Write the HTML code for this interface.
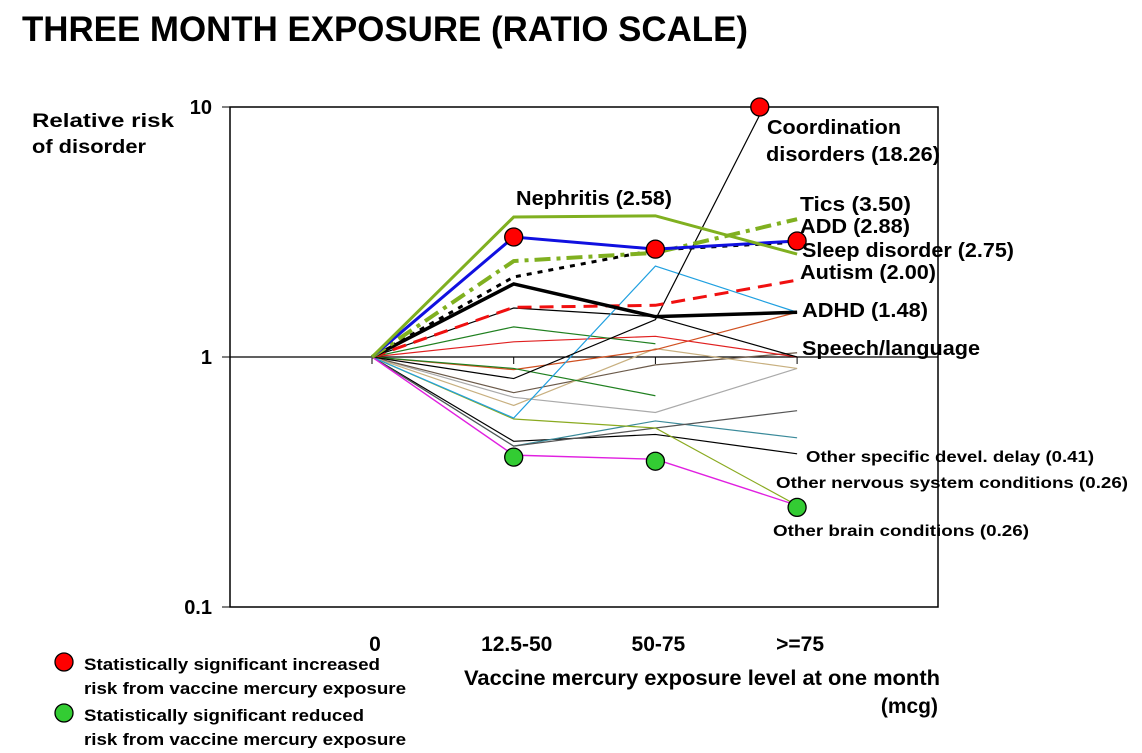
<!DOCTYPE html>
<html><head><meta charset="utf-8"><style>
body{margin:0;background:#fff;width:1142px;height:748px;overflow:hidden;font-family:"Liberation Sans",Arial,sans-serif}
svg text{font-family:"Liberation Sans",Arial,sans-serif;font-weight:bold}
</style></head><body>
<svg id="c" width="1142" height="748">
<text x="22" y="41" font-size="35" textLength="726" lengthAdjust="spacingAndGlyphs">THREE MONTH EXPOSURE (RATIO SCALE)</text>
<text x="32" y="127" font-size="19" textLength="142" lengthAdjust="spacingAndGlyphs">Relative risk</text>
<text x="32" y="153" font-size="19" textLength="114" lengthAdjust="spacingAndGlyphs">of disorder</text>
<rect x="230" y="107" width="708" height="500" fill="none" stroke="#000" stroke-width="1.5"/>
<g id="yt"></g><g id="xt"></g>
<clipPath id="cp"><rect x="230" y="107" width="708" height="500"/></clipPath>
<g id="lines" clip-path="url(#cp)"></g><g id="dots"></g>
<text x="464" y="685" font-size="21" textLength="476" lengthAdjust="spacingAndGlyphs">Vaccine mercury exposure level at one month</text>
<text x="938" y="713" font-size="21" text-anchor="end">(mcg)</text>
<g>
<circle cx="64" cy="662" r="9" fill="#f00" stroke="#000" stroke-width="1.3"/>
<text x="84" y="670" font-size="17" textLength="296" lengthAdjust="spacingAndGlyphs">Statistically significant increased</text>
<text x="84" y="694" font-size="17" textLength="322" lengthAdjust="spacingAndGlyphs">risk from vaccine mercury exposure</text>
<circle cx="64" cy="713" r="9" fill="#3c3" stroke="#000" stroke-width="1.3"/>
<text x="84" y="721" font-size="17" textLength="280" lengthAdjust="spacingAndGlyphs">Statistically significant reduced</text>
<text x="84" y="745" font-size="17" textLength="322" lengthAdjust="spacingAndGlyphs">risk from vaccine mercury exposure</text>
</g>
<g id="labels"></g>
</svg>
<script>
const categories=["0","12.5-50","50-75",">=75"];
const yTicks=[0.1,1,10];
const nephritis=[1,3.63,3.67,2.58];
const sleep=[1,3.02,2.70,2.91];
const tics=[1,2.42,2.61,3.56];
const add=[1,2.09,2.68,2.88];
const adhd=[1,1.96,1.45,1.51];
const autism=[1,1.58,1.61,2.03];
const coordination=[1,0.82,1.41,18.26];
const s1=[1,0.57,2.31,1.51];
const s2=[1,1.57,1.45,1.0];
const s3=[1,1.32,1.13,null];
const s4=[1,0.90,0.70,null];
const s5=[1,1.15,1.21,1.0];
const s6=[1,0.89,1.07,1.51];
const s7=[1,0.64,1.08,0.90];
const s8=[1,0.72,0.93,1.04];
const s9=[1,0.69,0.60,0.90];
const s10=[1,0.565,0.52,0.255];
const s11=[1,0.44,0.52,0.61];
const s12=[1,0.44,0.555,0.475];
const s13=[1,0.46,0.49,0.41];
const brain=[1,0.405,0.39,0.255];
const redDots=[[1,3.02],[2,2.70],[3,2.91]];
const greenDots=[[1,0.405],[2,0.39],[3,0.255]];
const xs=i=>372+i*141.7;
const ys=v=>357-250*Math.log10(v);
const NS="http://www.w3.org/2000/svg";
function mk(t,a,p){const e=document.createElementNS(NS,t);for(const k in a)e.setAttribute(k,a[k]);document.getElementById(p).appendChild(e);return e;}
yTicks.forEach(v=>{
 const l=mk('line',{x1:222,x2:230,y1:ys(v),y2:ys(v),stroke:'#000'},'yt');
 
 
 const t=mk('text',{x:212,y:ys(v)+7,'font-size':20,'text-anchor':'end'},'yt');t.textContent=v;
 
 
});
const h=mk('line',{x1:230,x2:938,y1:ys(1),y2:ys(1),stroke:'#000','stroke-width':1.2},'yt');


categories.forEach((c,i)=>{
 const l=mk('line',{x1:xs(i),x2:xs(i),y1:ys(1),y2:ys(1)+7,stroke:'#000'},'xt');
 
 
 const t=mk('text',{x:xs(i)+3,y:651,'font-size':21,'text-anchor':'middle'},'xt');t.textContent=c;
 
 
});
const series=[
[s13,'#000',1.2,''],[s12,'#3a8a9a',1.2,''],[s11,'#555',1.2,''],[s10,'#8aaa20',1.2,''],[s9,'#aaa',1.2,''],[s8,'#6b5a4a',1.2,''],[s7,'#c8b080',1.2,''],[s6,'#d05020',1.2,''],[s5,'#e02020',1.2,''],[s4,'#208020',1.2,''],[s3,'#208020',1.2,''],[s2,'#000',1.2,''],[s1,'#20a0e0',1.2,''],
[brain,'#e020e0',1.4,''],[coordination,'#000',1.2,''],
[autism,'#f01010',3,'14,8'],[adhd,'#000',3.5,''],[add,'#000',3,'5,6'],[tics,'#80b020',4,'16,6,4,6'],[sleep,'#1010e0',3,''],[nephritis,'#80b020',3,'']];
series.forEach((s,k)=>{
 const pts=s[0].map((v,i)=>v==null?null:xs(i)+','+ys(v)).filter(p=>p);
 const p=mk('polyline',{points:pts.join(' '),fill:'none',stroke:s[1],'stroke-width':s[2],'stroke-dasharray':s[3]},'lines');
 
 
});
(function(){const x0=xs(2),y0=ys(coordination[2]),x1=xs(3),y1=ys(coordination[3]);
 let cx=x1,cy=y1;if(y1<107){const t=(y0-107)/(y0-y1);cx=x0+t*(x1-x0);cy=107;}
 const d=mk('circle',{cx:cx-4,cy:cy,r:9,fill:'#f00',stroke:'#000','stroke-width':1.3},'dots');
 
 })();
redDots.forEach(p=>{const d=mk('circle',{cx:xs(p[0]),cy:ys(p[1]),r:9,fill:'#f00',stroke:'#000','stroke-width':1.3},'dots');
 
 });
greenDots.forEach(p=>{const d=mk('circle',{cx:xs(p[0]),cy:ys(p[1])+2,r:9,fill:'#3c3',stroke:'#000','stroke-width':1.3},'dots');
 
 });
const labels=[["Nephritis (2.58)",516,205,20,156],["Coordination",767,134,20,134],["disorders (18.26)",766,161,20,174],["Tics (3.50)",800,211,20,111],["ADD (2.88)",800,233,20,110],["Sleep disorder (2.75)",802,257,20,212],["Autism (2.00)",800,279,20,136],["ADHD (1.48)",802,317,20,126],["Speech/language",802,355,20,178],["Other specific devel. delay (0.41)",806,462,16,288],["Other nervous system conditions (0.26)",776,488,16,352],["Other brain conditions (0.26)",773,536,16,256]];
labels.forEach(l=>{const t=mk('text',{x:l[1],y:l[2],'font-size':l[3],textLength:l[4],lengthAdjust:'spacingAndGlyphs'},'labels');t.textContent=l[0];
 
 });
</script>
</body></html>
